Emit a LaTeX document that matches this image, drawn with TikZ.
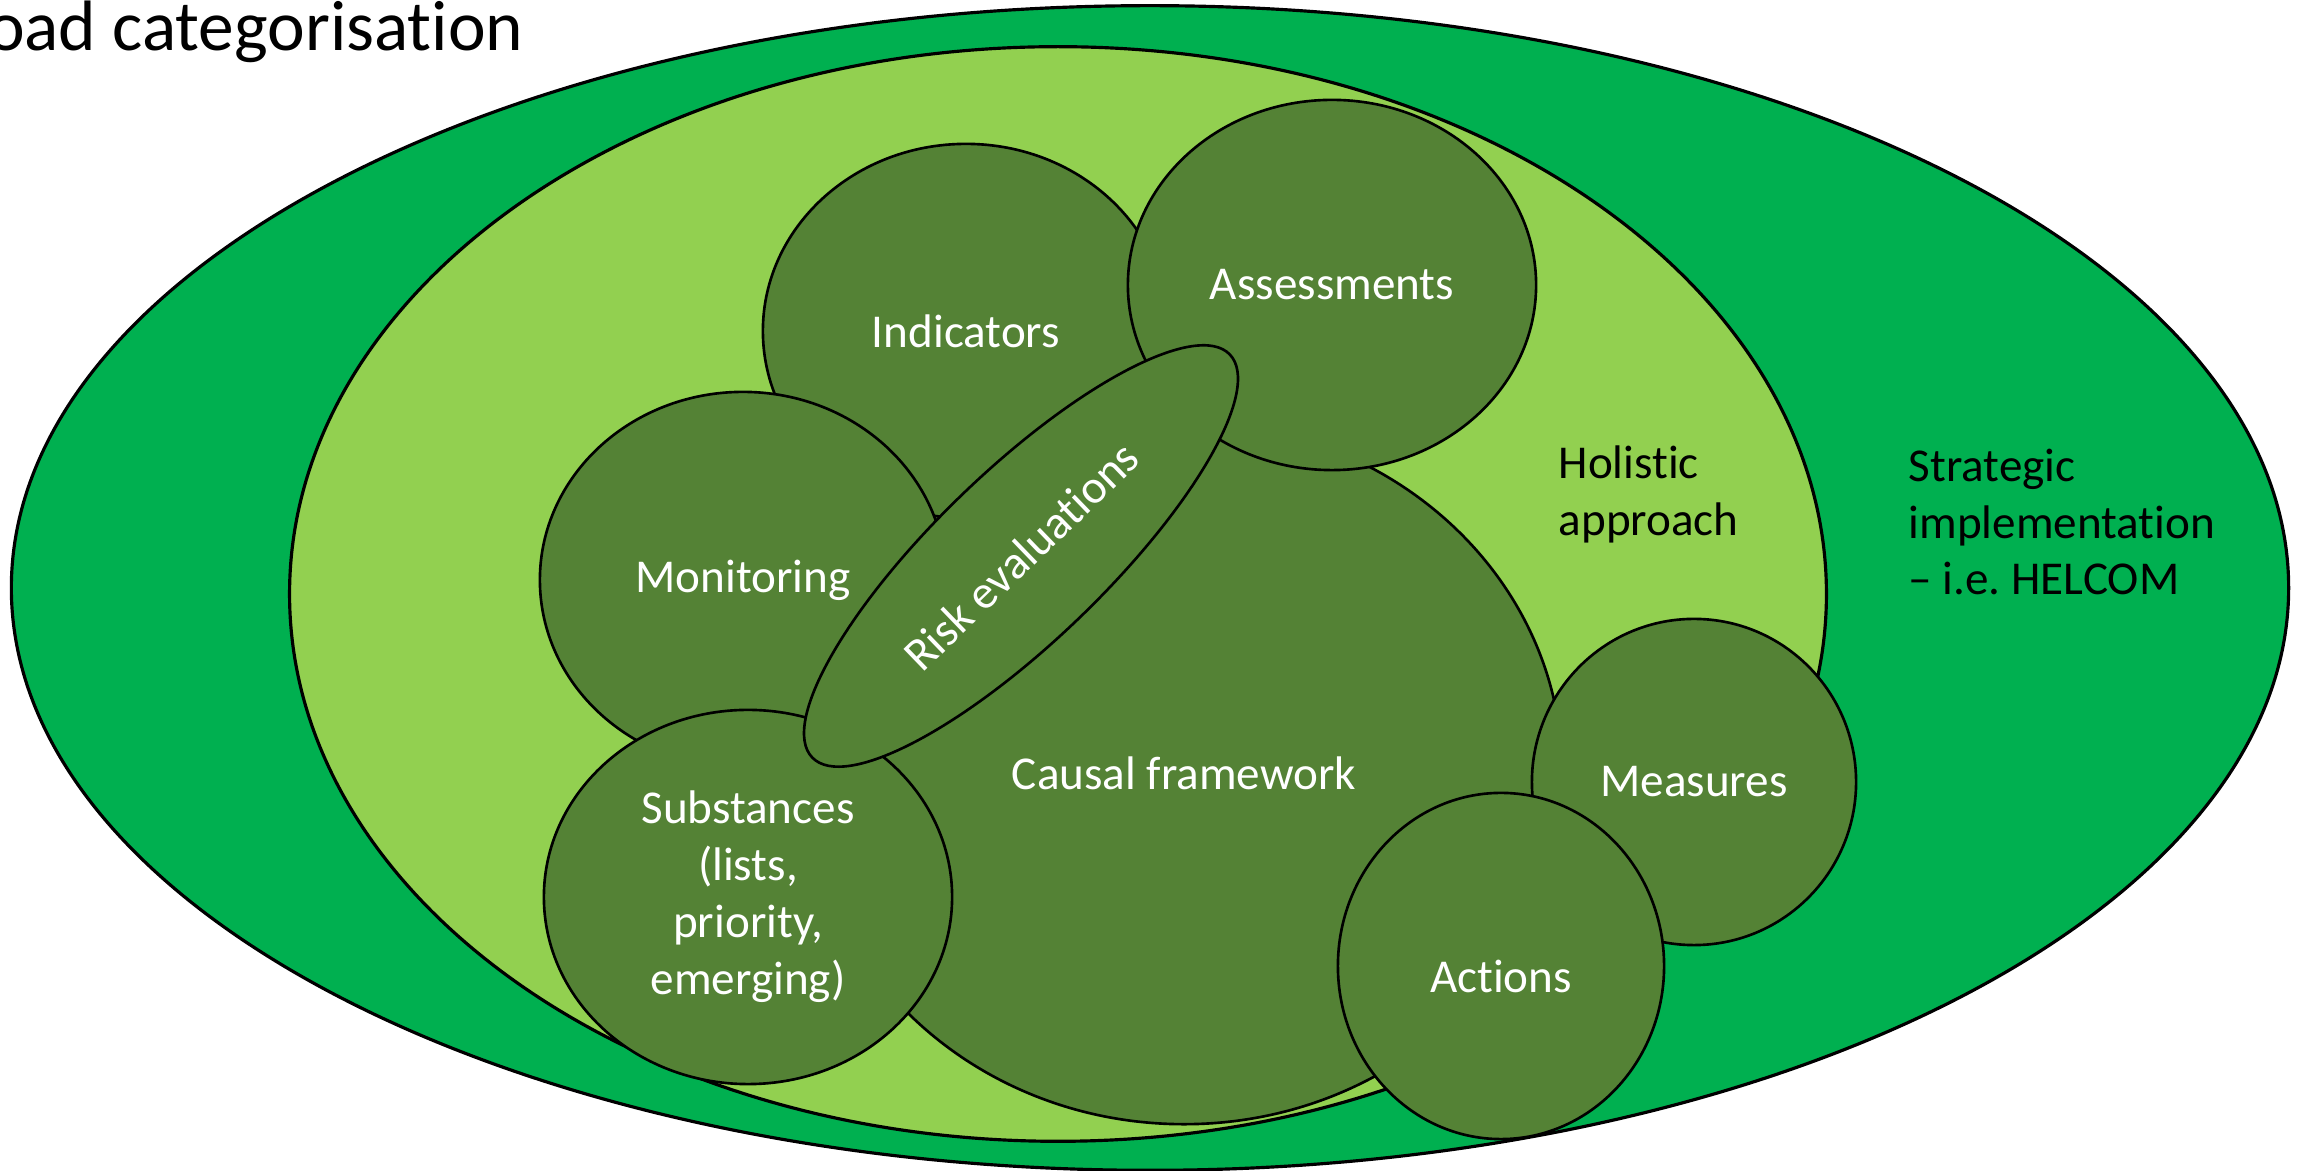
\documentclass[tikz,border=0pt]{standalone}
\usepackage{fontspec}
\setmainfont{Carlito}[Ligatures={NoCommon,NoRequired,NoContextual},RawFeature={-liga;-clig;-calt;-dlig}]
\usetikzlibrary{shapes.geometric}
\definecolor{outergreen}{HTML}{00B050}
\definecolor{lightgreen}{HTML}{92D050}
\definecolor{darkgreen}{HTML}{548235}
\newcommand\lblfont{\fontsize{13.4}{16.2}\selectfont}
\newcommand\ttlfont{\fontsize{20.3}{24}\selectfont}
\tikzset{
  bigell/.style={ellipse, draw=black, line width=0.9pt, inner sep=0pt},
  blob/.style={ellipse, draw=black, line width=0.75pt, fill=darkgreen, text=white,
    font=\lblfont, inner sep=0pt, align=center},
  plain/.style={font=\lblfont, text=black, align=left, inner sep=0pt},
}
\frenchspacing
\begin{document}
\begin{tikzpicture}[x=0.01cm, y=-0.01cm]
\useasboundingbox (0,0) rectangle (2305,1171);
\clip (0,0) rectangle (2305,1171);
\fill[white] (0,0) rectangle (2305,1171);
% title
\node[font=\ttlfont, anchor=base east, inner sep=0pt] (title) at (524,51) {Broad categorisation};
% outer and holistic ellipses
\node[bigell, fill=outergreen, minimum width=22.76cm, minimum height=11.64cm] (outer) at (1150,588) {};
\node[bigell, fill=lightgreen, minimum width=15.36cm, minimum height=10.94cm] (holi) at (1058,594) {};
% inner elements
\node[blob, minimum width=7.56cm, minimum height=7.02cm] (causal) at (1184,773) {Causal framework};
\node[blob, minimum width=4.06cm, minimum height=3.74cm] (ind) at (966,331) {Indicators};
\node[blob, minimum width=4.08cm, minimum height=3.70cm] (ass) at (1332,285) {Assessments};
\node[blob, minimum width=4.06cm, minimum height=3.76cm] (mon) at (743,580) {Monitoring};
\node[blob, minimum width=4.08cm, minimum height=3.74cm] (sub) at (748,897) {Substances\\(lists,\\priority,\\emerging)};
\node[blob, minimum width=3.24cm, minimum height=3.26cm] (meas) at (1694,782) {Measures};
\node[blob, minimum width=3.26cm, minimum height=3.46cm] (act) at (1501,966) {\raisebox{-0.1cm}[\height][\depth]{Actions}};
\node[blob, rotate=44, minimum width=5.8cm, minimum height=1.7cm] (risk) at (1021,556) {Risk evaluations};
% free labels
\node[plain, anchor=west] (holtxt) at (1558,494) {Holistic\\approach};
\node[plain, anchor=west] (strtxt) at (1908,522) {Strategic\\implementation\\– i.e. HELCOM};
\end{tikzpicture}
\end{document}
